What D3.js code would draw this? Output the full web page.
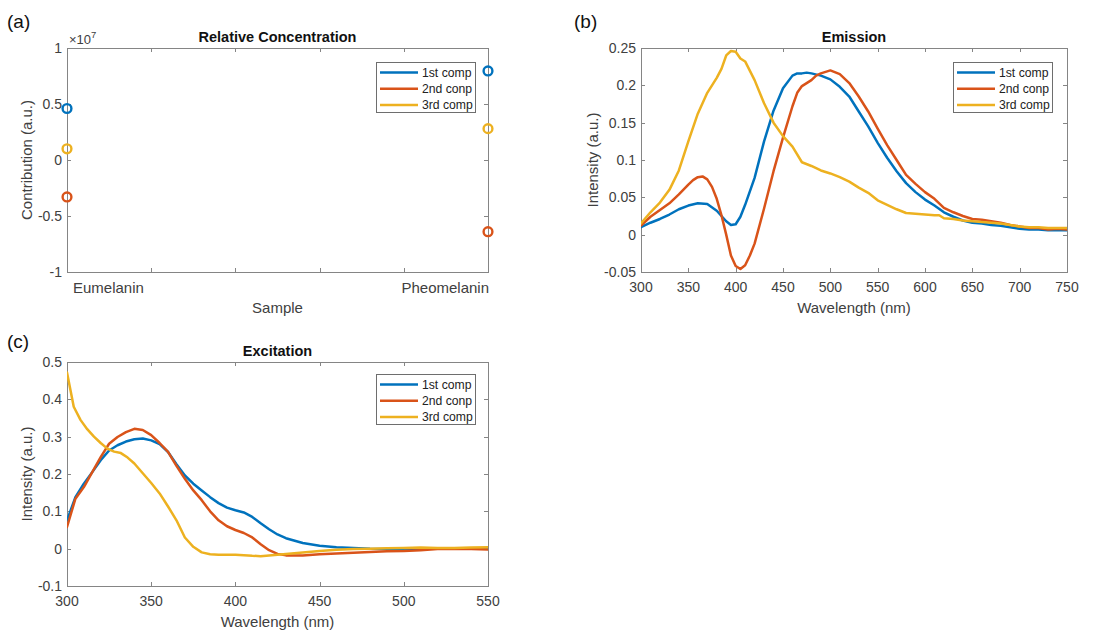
<!DOCTYPE html>
<html>
<head>
<meta charset="utf-8">
<script src="https://cdn.jsdelivr.net/npm/d3@7"></script>
<style>
  html, body { margin: 0; padding: 0; background: #fff; }
  svg { display: block; }
  text { font-family: "Liberation Sans", Arial, Helvetica, sans-serif; }
</style>
</head>
<body>
<svg id="chart" width="1095" height="630"></svg>
<script>
// ---------------- DATA ----------------
const seriesNames = ["1st comp", "2nd conp", "3rd comp"];
const seriesColors = ["#0072BD", "#D95319", "#EDB120"];

// (a) Relative concentration
const samples = ["Eumelanin", "Pheomelanin"];
const sampleIndex = [1, 2];
const conc1st = [4.6e6, 7.95e6];
const conc2nd = [-3.3e6, -6.4e6];
const conc3rd = [1.0e6, 2.8e6];
const concTicks = [-1e7, -0.5e7, 0, 0.5e7, 1e7];
const concXTicks = [1, 1.2, 1.4, 1.6, 1.8, 2];

// (b) Emission
const emWl1 = [300,310,320,330,340,350,360,370,380,390,395,400,405,410,420,430,440,450,460,465,470,475,480,490,500,510,520,530,540,550,560,570,580,590,600,610,620,630,640,650,660,670,680,690,700,710,720,730,740,750];
const em1 = [0.010,0.016,0.021,0.027,0.034,0.039,0.042,0.041,0.032,0.018,0.013,0.014,0.024,0.040,0.076,0.125,0.166,0.196,0.213,0.216,0.216,0.217,0.216,0.213,0.208,0.198,0.185,0.165,0.145,0.123,0.103,0.085,0.069,0.057,0.047,0.039,0.030,0.024,0.019,0.016,0.015,0.013,0.012,0.010,0.008,0.007,0.007,0.006,0.006,0.006];
const emWl2 = [300,310,320,330,340,350,355,360,365,370,375,380,385,390,395,400,405,410,415,420,430,440,450,460,465,470,480,485,490,500,510,520,530,540,550,560,570,580,590,600,610,620,630,640,650,660,670,680,690,700,710,720,730,740,750];
const em2 = [0.012,0.024,0.033,0.042,0.054,0.067,0.073,0.077,0.078,0.074,0.064,0.048,0.026,0.000,-0.028,-0.042,-0.046,-0.041,-0.028,-0.012,0.035,0.085,0.130,0.172,0.190,0.199,0.207,0.213,0.216,0.220,0.215,0.203,0.185,0.165,0.142,0.120,0.100,0.080,0.068,0.057,0.048,0.036,0.030,0.025,0.021,0.020,0.018,0.016,0.013,0.011,0.009,0.009,0.007,0.008,0.007];
const emWl3 = [300,310,320,330,340,350,360,370,380,385,390,395,400,405,410,420,430,440,450,460,470,480,490,500,510,520,530,540,550,560,570,580,590,600,610,615,620,630,640,650,660,670,680,690,700,710,720,730,740,750];
const em3 = [0.015,0.030,0.043,0.060,0.086,0.125,0.162,0.190,0.210,0.222,0.240,0.246,0.245,0.236,0.232,0.207,0.176,0.150,0.132,0.118,0.097,0.092,0.086,0.082,0.077,0.071,0.063,0.056,0.046,0.040,0.034,0.029,0.028,0.027,0.026,0.026,0.022,0.021,0.019,0.018,0.017,0.016,0.015,0.013,0.011,0.010,0.010,0.009,0.009,0.009];
const emXTicks = [300,350,400,450,500,550,600,650,700,750];
const emYTicks = [-0.05,0,0.05,0.1,0.15,0.2,0.25];

// (c) Excitation
const exWl1 = [300,305,310,315,320,325,330,335,340,345,350,355,360,365,370,375,380,385,390,395,400,405,410,415,420,425,430,440,450,460,470,480,490,500,510,520,530,540,550];
const ex1 = [0.076,0.138,0.174,0.205,0.237,0.263,0.277,0.287,0.293,0.295,0.290,0.280,0.259,0.226,0.196,0.174,0.156,0.138,0.122,0.110,0.103,0.097,0.085,0.068,0.052,0.038,0.028,0.015,0.008,0.004,0.002,0.000,-0.001,0.000,0.000,0.001,0.001,0.001,0.001];
const exWl2 = [300,305,310,315,320,325,330,335,340,345,350,355,360,365,370,375,380,385,390,395,400,405,410,415,420,425,430,440,450,460,470,480,490,500,510,520,530,540,550];
const ex2 = [0.058,0.134,0.165,0.205,0.245,0.281,0.299,0.312,0.321,0.318,0.304,0.283,0.259,0.222,0.187,0.156,0.130,0.100,0.076,0.060,0.050,0.042,0.030,0.012,-0.004,-0.014,-0.018,-0.018,-0.015,-0.013,-0.011,-0.009,-0.007,-0.006,-0.004,-0.001,0.000,-0.001,-0.002];
const exWl3 = [300,304,308,312,316,320,324,328,332,336,340,345,350,355,360,365,370,375,380,385,390,400,410,415,420,430,440,450,460,470,480,490,500,510,520,530,540,550];
const ex3 = [0.472,0.380,0.345,0.320,0.300,0.283,0.268,0.260,0.256,0.244,0.228,0.202,0.176,0.148,0.113,0.076,0.030,0.005,-0.010,-0.015,-0.016,-0.016,-0.019,-0.020,-0.018,-0.014,-0.010,-0.006,-0.003,-0.001,0.000,0.001,0.002,0.003,0.002,0.002,0.003,0.004];
const exXTicks = [300,350,400,450,500,550];
const exYTicks = [-0.1,0,0.1,0.2,0.3,0.4,0.5];

// ---------------- DRAWING ----------------
const svg = d3.select("#chart");
const AXIS = "#858585", TXT = "#404040";
const fmt = v => String(+v.toFixed(2));

function frame(g, box, x, y, xTicks, yTicks, yFmt, xFmt) {
  const tl = 4;
  g.append("rect").attr("x", box.x0).attr("y", box.y0)
    .attr("width", box.x1 - box.x0).attr("height", box.y1 - box.y0)
    .attr("fill", "none").attr("stroke", AXIS).attr("stroke-width", 1)
    .attr("shape-rendering", "crispEdges");
  xTicks.forEach(t => {
    const px = Math.round(x(t)) + 0.5;
    g.append("line").attr("x1", px).attr("x2", px).attr("y1", box.y1).attr("y2", box.y1 - tl).attr("stroke", AXIS);
    g.append("line").attr("x1", px).attr("x2", px).attr("y1", box.y0).attr("y2", box.y0 + tl).attr("stroke", AXIS);
    if (xFmt) g.append("text").attr("x", x(t)).attr("y", box.y1 + 20)
      .attr("text-anchor", "middle").attr("font-size", 14).attr("fill", TXT).text(xFmt(t));
  });
  yTicks.forEach(t => {
    const py = Math.round(y(t)) + 0.5;
    g.append("line").attr("y1", py).attr("y2", py).attr("x1", box.x0).attr("x2", box.x0 + tl).attr("stroke", AXIS);
    g.append("line").attr("y1", py).attr("y2", py).attr("x1", box.x1).attr("x2", box.x1 - tl).attr("stroke", AXIS);
    g.append("text").attr("x", box.x0 - 5).attr("y", y(t) + 5)
      .attr("text-anchor", "end").attr("font-size", 14).attr("fill", TXT).text(yFmt(t));
  });
}

function labels(g, box, title, xlab, ylab, ylabX, letter, letterX, letterY) {
  const cx = (box.x0 + box.x1) / 2;
  g.append("text").attr("x", cx).attr("y", box.y0 - 6).attr("text-anchor", "middle")
    .attr("font-size", 14.5).attr("font-weight", "bold").attr("fill", "#111").text(title);
  g.append("text").attr("x", cx).attr("y", box.y1 + 41).attr("text-anchor", "middle")
    .attr("font-size", 15).attr("fill", TXT).text(xlab);
  const cy = (box.y0 + box.y1) / 2;
  g.append("text").attr("transform", `translate(${ylabX},${cy}) rotate(-90)`)
    .attr("text-anchor", "middle").attr("font-size", 15).attr("fill", TXT).text(ylab);
  g.append("text").attr("x", letterX).attr("y", letterY).attr("font-size", 19)
    .attr("font-family", "'Open Sans', 'Noto Sans', sans-serif").attr("fill", "#111").text(letter);
}

function legend(g, lx, ly) {
  const w = 99, h = 50;
  g.append("rect").attr("x", lx + 0.5).attr("y", ly + 0.5).attr("width", w).attr("height", h)
    .attr("fill", "#fff").attr("stroke", "#6e6e6e").attr("stroke-width", 1);
  seriesNames.forEach((n, i) => {
    const yy = ly + 10.5 + i * 16.3;
    g.append("line").attr("x1", lx + 4).attr("x2", lx + 42).attr("y1", yy).attr("y2", yy)
      .attr("stroke", seriesColors[i]).attr("stroke-width", 2.5);
    g.append("text").attr("x", lx + 46).attr("y", yy + 4.3).attr("font-size", 12.2)
      .attr("fill", "#222").text(n);
  });
}

function lines(g, box, x, y, sets, clipId) {
  svg.append("clipPath").attr("id", clipId).append("rect")
    .attr("x", box.x0).attr("y", box.y0).attr("width", box.x1 - box.x0).attr("height", box.y1 - box.y0);
  const gl = g.append("g").attr("clip-path", `url(#${clipId})`);
  sets.forEach((s, i) => {
    const pts = s[0].map((w, k) => [w, s[1][k]]);
    gl.append("path").datum(pts)
      .attr("d", d3.line().x(d => x(d[0])).y(d => y(d[1])))
      .attr("fill", "none").attr("stroke", seriesColors[i]).attr("stroke-width", 2.5)
      .attr("stroke-linejoin", "round").attr("stroke-linecap", "round");
  });
}

// ---- Panel (a)
(function () {
  const box = { x0: 67, x1: 488, y0: 48, y1: 272 };
  const g = svg.append("g");
  const x = d3.scaleLinear().domain([1, 2]).range([box.x0, box.x1]);
  const y = d3.scaleLinear().domain([-1e7, 1e7]).range([box.y1, box.y0]);
  frame(g, box, x, y, concXTicks, concTicks, t => fmt(t / 1e7), null);
  g.append("text").attr("x", x(sampleIndex[0]) + 6).attr("y", box.y1 + 21).attr("font-size", 15)
    .attr("fill", TXT).attr("text-anchor", "start").text(samples[0]);
  g.append("text").attr("x", x(sampleIndex[1]) + 1).attr("y", box.y1 + 21).attr("font-size", 15)
    .attr("fill", TXT).attr("text-anchor", "end").text(samples[1]);
  const ex = g.append("text").attr("x", box.x0 + 2).attr("y", box.y0 - 4).attr("font-size", 13).attr("fill", TXT);
  ex.append("tspan").text("×10");
  ex.append("tspan").attr("dy", -6).attr("font-size", 9.5).text("7");
  labels(g, box, "Relative Concentration", "Sample", "Contribution (a.u.)", 32, "(a)", 7, 28);
  legend(g, 376, 62);
  [conc1st, conc2nd, conc3rd].forEach((vals, i) => {
    vals.forEach((v, k) => {
      g.append("circle").attr("cx", x(sampleIndex[k])).attr("cy", y(v)).attr("r", 4.4)
        .attr("fill", "none").attr("stroke", seriesColors[i]).attr("stroke-width", 2.4);
    });
  });
})();

// ---- Panel (b)
(function () {
  const box = { x0: 641, x1: 1067, y0: 48, y1: 272 };
  const g = svg.append("g");
  const x = d3.scaleLinear().domain([300, 750]).range([box.x0, box.x1]);
  const y = d3.scaleLinear().domain([-0.05, 0.25]).range([box.y1, box.y0]);
  frame(g, box, x, y, emXTicks, emYTicks, fmt, d => String(d));
  labels(g, box, "Emission", "Wavelength (nm)", "Intensity (a.u.)", 598, "(b)", 574, 28);
  lines(g, box, x, y, [[emWl1, em1], [emWl2, em2], [emWl3, em3]], "clipB");
  legend(g, 953, 62);
})();

// ---- Panel (c)
(function () {
  const box = { x0: 67, x1: 488, y0: 362, y1: 586 };
  const g = svg.append("g");
  const x = d3.scaleLinear().domain([300, 550]).range([box.x0, box.x1]);
  const y = d3.scaleLinear().domain([-0.1, 0.5]).range([box.y1, box.y0]);
  frame(g, box, x, y, exXTicks, exYTicks, fmt, d => String(d));
  labels(g, box, "Excitation", "Wavelength (nm)", "Intensity (a.u.)", 32, "(c)", 7, 348);
  lines(g, box, x, y, [[exWl1, ex1], [exWl2, ex2], [exWl3, ex3]], "clipC");
  legend(g, 376, 374);
})();
</script>
</body>
</html>
